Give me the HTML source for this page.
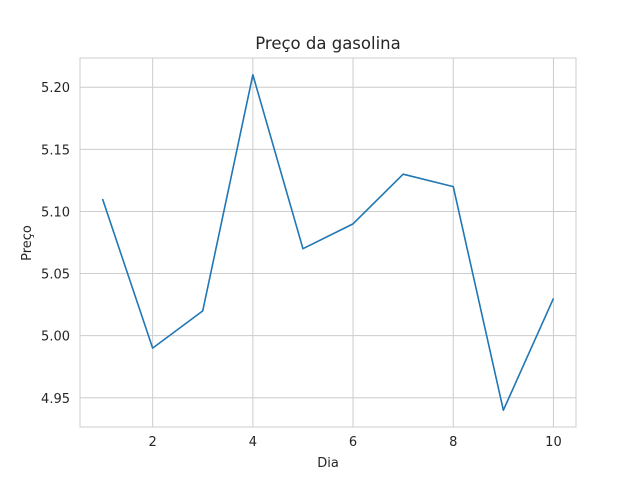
<!DOCTYPE html>
<html><head><meta charset="utf-8"><style>
body{margin:0;background:#fff;}
svg text{font-family:"DejaVu Sans","Liberation Sans",sans-serif;fill:#262626;}
</style></head><body>
<svg id="chart" width="640" height="480">
<text x="328" y="49" text-anchor="middle" font-size="16.5">Preço da gasolina</text>
<g id="grid"></g>
<g id="plot"></g>
<g id="ticks"></g>
<text x="328" y="467" text-anchor="middle" font-size="13">Dia</text>
<text transform="translate(31,243) rotate(-90)" text-anchor="middle" font-size="13">Preço</text>
</svg>
<script>
const days=[1,2,3,4,5,6,7,8,9,10];
const prices=[5.11,4.99,5.02,5.21,5.07,5.09,5.13,5.12,4.94,5.03];
const xTicks=[2,4,6,8,10];
const yTicks=[4.95,5.00,5.05,5.10,5.15,5.20];
const L=80,R=576,T=58,B=427;
const xmin=0.55,xmax=10.45,ymin=4.9265,ymax=5.2235;
const sx=v=>L+(v-xmin)/(xmax-xmin)*(R-L);
const sy=v=>B-(v-ymin)/(ymax-ymin)*(B-T);
const NS="http://www.w3.org/2000/svg";
function mk(tag,attrs,parent){const e=document.createElementNS(NS,tag);for(const k in attrs)e.setAttribute(k,attrs[k]);parent.appendChild(e);return e;}
const grid=document.getElementById('grid'),ticks=document.getElementById('ticks'),plot=document.getElementById('plot');
xTicks.forEach(t=>{const x=sx(t);
 const g=mk('line',{x1:x,x2:x,y1:T,y2:B,stroke:'#cccccc','stroke-width':1},grid);
 
 
 const tx=mk('text',{x:x,y:B+19,'text-anchor':'middle','font-size':'13'},ticks);tx.textContent=t;
 
 
});
yTicks.forEach(t=>{const y=sy(t);
 const g=mk('line',{x1:L,x2:R,y1:y,y2:y,stroke:'#cccccc','stroke-width':1},grid);
 
 
 const tx=mk('text',{x:L-10,y:y+5,'text-anchor':'end','font-size':'13'},ticks);tx.textContent=t.toFixed(2);
 
 
});
const fr=mk('rect',{x:L,y:T,width:R-L,height:B-T,fill:'none',stroke:'#cccccc','stroke-width':1},grid);


const pl=mk('polyline',{points:days.map((d,i)=>sx(d)+','+sy(prices[i])).join(' '),fill:'none',stroke:'#1f77b4','stroke-width':1.6,'stroke-linejoin':'round'},plot);


</script>
</body></html>
